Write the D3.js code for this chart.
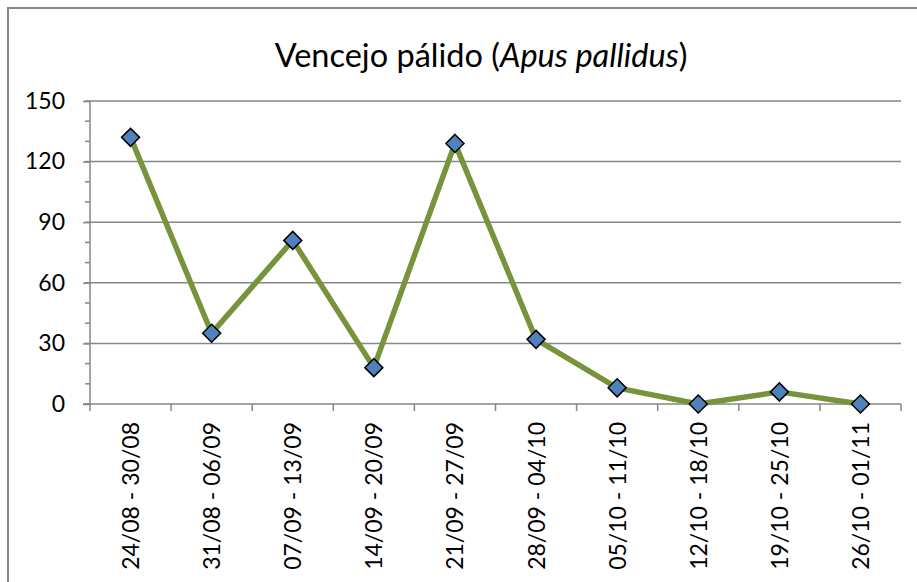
<!DOCTYPE html>
<html>
<head>
<meta charset="utf-8">
<script src="https://cdn.jsdelivr.net/npm/d3@7"></script>
<style>
  body { margin: 0; background: #fff; }
  svg text { font-family: Lato, "Open Sans", sans-serif; fill: #000; }
</style>
</head>
<body>
<svg id="chart" width="917" height="582"></svg>
<script>
// weeks and counts for Apus pallidus
var weeks = ["24/08 - 30/08", "31/08 - 06/09", "07/09 - 13/09", "14/09 - 20/09", "21/09 - 27/09",
             "28/09 - 04/10", "05/10 - 11/10", "12/10 - 18/10", "19/10 - 25/10", "26/10 - 01/11"];
var counts = [132, 35, 81, 18, 129, 32, 8, 0, 6, 0];
var yTicks = [0, 30, 60, 90, 120, 150];

var margin = {top: 101, left: 90, right: 16, bottom: 178},
    width = 917 - margin.left - margin.right,
    height = 582 - margin.top - margin.bottom;

var svg = d3.select("#chart");

// outer chart border (only top and left show)
svg.append("rect")
    .attr("x", 8).attr("y", 8)
    .attr("width", 1000).attr("height", 1000)
    .attr("fill", "none")
    .attr("stroke", "#868686")
    .attr("stroke-width", 2);

svg.append("text")
    .attr("x", 481).attr("y", 67)
    .attr("text-anchor", "middle")
    .style("font-size", "32.5px")
    .html('Vencejo pálido (<tspan font-style="italic">Apus pallidus</tspan>)');

var g = svg.append("g")
    .attr("transform", "translate(" + margin.left + "," + margin.top + ")");

var x = d3.scaleBand().domain(weeks).range([0, width]);
var y = d3.scaleLinear().domain([0, 150]).range([height, 0]);

// gridlines
g.selectAll(".grid")
    .data(yTicks.slice(1))
  .enter().append("line")
    .attr("x1", 0).attr("x2", width)
    .attr("y1", function(d) { return y(d); })
    .attr("y2", function(d) { return y(d); })
    .attr("stroke", "#868686")
    .attr("stroke-width", 1.5);

// minor y ticks
g.selectAll(".minor")
    .data(d3.range(0, 151, 10))
  .enter().append("line")
    .attr("x1", -5).attr("x2", 0)
    .attr("y1", function(d) { return y(d); })
    .attr("y2", function(d) { return y(d); })
    .attr("stroke", "#868686")
    .attr("stroke-width", 1.5);

var yAxis = g.append("g")
    .call(d3.axisLeft(y).tickValues(yTicks).tickSize(7).tickPadding(18).tickSizeOuter(0));
yAxis.select(".domain").attr("stroke", "#868686").attr("stroke-width", 1.5)
    .attr("d", "M0,0V" + (height + 7));
yAxis.selectAll(".tick line").attr("stroke", "#868686").attr("stroke-width", 1.5);
yAxis.selectAll("text").style("font-size", "23px").attr("fill", "#000");

// x axis with ticks at category boundaries
g.append("line")
    .attr("x1", -7).attr("x2", width)
    .attr("y1", height).attr("y2", height)
    .attr("stroke", "#868686").attr("stroke-width", 1.5);

g.selectAll(".xtick")
    .data(weeks)
  .enter().append("line")
    .attr("x1", function(d) { return x(d) + x.bandwidth(); })
    .attr("x2", function(d) { return x(d) + x.bandwidth(); })
    .attr("y1", height).attr("y2", height + 7)
    .attr("stroke", "#868686").attr("stroke-width", 1.5);

g.selectAll(".xlabel")
    .data(weeks)
  .enter().append("text")
    .attr("transform", function(d) {
      return "translate(" + (x(d) + x.bandwidth() / 2 + 8.5) + "," + (height + 18) + ") rotate(-90)";
    })
    .attr("text-anchor", "end")
    .style("font-size", "23px")
    .text(function(d) { return d; });

// the series
var line = d3.line()
    .x(function(d, i) { return x(weeks[i]) + x.bandwidth() / 2; })
    .y(function(d) { return y(d); });

g.append("path")
    .datum(counts)
    .attr("d", line)
    .attr("fill", "none")
    .attr("stroke", "#77933C")
    .attr("stroke-width", 5.5)
    .attr("stroke-linejoin", "round");

g.selectAll(".marker")
    .data(counts)
  .enter().append("path")
    .attr("transform", function(d, i) {
      return "translate(" + (x(weeks[i]) + x.bandwidth() / 2) + "," + y(d) + ")";
    })
    .attr("d", "M0,-9L9,0L0,9L-9,0Z")
    .attr("fill", "#4F81BD")
    .attr("stroke", "#000")
    .attr("stroke-width", 1.5);
</script>
</body>
</html>
